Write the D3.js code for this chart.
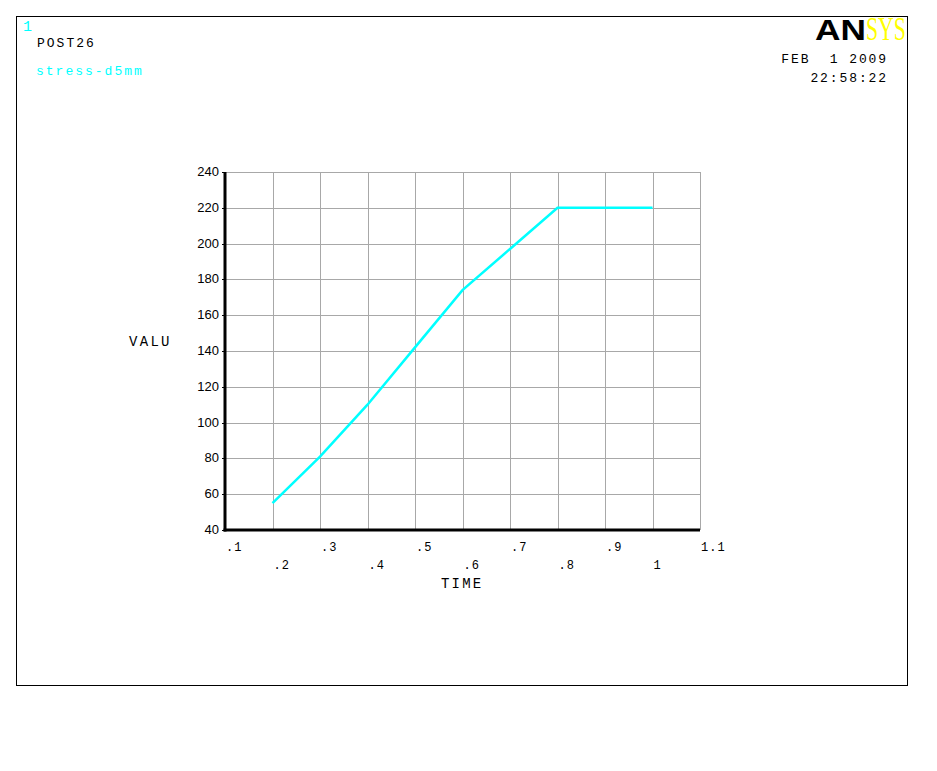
<!DOCTYPE html>
<html><head><meta charset="utf-8">
<script src="https://cdn.jsdelivr.net/npm/d3@7"></script>
<style>body{margin:0;background:#fff}svg{display:block}</style>
</head><body>
<svg id="c" width="937" height="771"></svg>
<script>
const time = [0.2, 0.3, 0.4, 0.5, 0.6, 0.7, 0.8, 0.9, 1.0];
const valu = [55, 81, 110, 142, 174, 197, 220, 220, 220];
const xTicks = [0.1,0.2,0.3,0.4,0.5,0.6,0.7,0.8,0.9,1.0,1.1];
const xTickLabels = [".1",".2",".3",".4",".5",".6",".7",".8",".9","1","1.1"];
const yTicks = [40,60,80,100,120,140,160,180,200,220,240];

const svg = d3.select("#c");
const x = d3.scaleLinear().domain([0.1,1.1]).range([225,700]);
const y = d3.scaleLinear().domain([40,240]).range([530,172]);
const mono = "'Liberation Mono','Courier New',monospace";
const sans = "'Liberation Sans',Arial,sans-serif";

svg.append("rect").attr("x",16.5).attr("y",16.5).attr("width",891).attr("height",669)
  .attr("fill","none").attr("stroke","#000").attr("stroke-width",1);

// grid
const g = svg.append("g");
g.selectAll(".vg").data(xTicks.slice(1)).join("line")
  .attr("x1",d=>Math.round(x(d))+0.5).attr("x2",d=>Math.round(x(d))+0.5)
  .attr("y1",y(240)).attr("y2",y(40)).attr("stroke","#a8a8a8").attr("stroke-width",1);
g.selectAll(".hg").data(yTicks.slice(1)).join("line")
  .attr("y1",d=>Math.round(y(d))+0.5).attr("y2",d=>Math.round(y(d))+0.5)
  .attr("x1",x(0.1)).attr("x2",x(1.1)).attr("stroke","#a8a8a8").attr("stroke-width",1);

// axes lines
svg.append("line").attr("x1",x(0.1)).attr("x2",x(0.1)).attr("y1",y(240)).attr("y2",y(40)+1.5)
  .attr("stroke","#000").attr("stroke-width",3);
svg.append("line").attr("x1",x(0.1)-1.5).attr("x2",x(1.1)).attr("y1",y(40)).attr("y2",y(40))
  .attr("stroke","#000").attr("stroke-width",3);

// y tick marks & labels
svg.selectAll(".yt").data(yTicks).join("line")
  .attr("x1",x(0.1)-3).attr("x2",x(0.1)).attr("y1",d=>Math.round(y(d))+0.5).attr("y2",d=>Math.round(y(d))+0.5)
  .attr("stroke","#000").attr("stroke-width",1);
svg.selectAll(".yl").data(yTicks).join("text")
  .attr("x",x(0.1)-6).attr("y",d=>y(d)+4).attr("text-anchor","end")
  .attr("font-family",sans).attr("font-size",13).attr("fill","#000").text(d=>d);

// x labels staggered
svg.selectAll(".xl").data(xTicks).join("text")
  .attr("x",d=>x(d)+1).attr("y",(d,i)=>i%2===0?551:569).attr("text-anchor","start")
  .attr("font-family",mono).attr("font-size",12).attr("letter-spacing",1).attr("fill","#000").text((d,i)=>xTickLabels[i]);

// axis titles
svg.append("text").attr("x",129).attr("y",346).attr("font-family",mono).attr("font-size",14).attr("letter-spacing",2.3).text("VALU");
svg.append("text").attr("x",441).attr("y",588).attr("font-family",mono).attr("font-size",14).attr("letter-spacing",2.2).text("TIME");

// data line
const line = d3.line().x((d,i)=>x(time[i])).y(d=>y(d));
svg.append("path").datum(valu).attr("d",line).attr("fill","none")
  .attr("stroke","#00ffff").attr("stroke-width",2.5);

// header texts
svg.append("text").attr("x",23).attr("y",31).attr("font-family",mono).attr("font-size",15).attr("fill","#00ffff").text("1");
svg.append("text").attr("x",37).attr("y",47).attr("font-family",mono).attr("font-size",13).attr("letter-spacing",2).attr("fill","#000").text("POST26");
svg.append("text").attr("x",36).attr("y",75).attr("font-family",mono).attr("font-size",13).attr("letter-spacing",2).attr("fill","#00ffff").text("stress-d5mm");
svg.append("text").attr("x",888).attr("y",63).attr("text-anchor","end").attr("font-family",mono).attr("font-size",13).attr("letter-spacing",1.9).style("white-space","pre").text("FEB  1 2009");
svg.append("text").attr("x",888).attr("y",82).attr("text-anchor","end").attr("font-family",mono).attr("font-size",13).attr("letter-spacing",1.9).text("22:58:22");

// logo
svg.append("text").attr("x",815).attr("y",40).attr("font-family",sans).attr("font-weight","bold")
  .attr("font-size",30).attr("fill","#000").attr("textLength",51).attr("lengthAdjust","spacingAndGlyphs").text("AN");
svg.append("text").attr("x",866).attr("y",40).attr("font-family","'Liberation Serif','Times New Roman',serif")
  .attr("font-size",33).attr("fill","#ffff00").attr("textLength",40).attr("lengthAdjust","spacingAndGlyphs").text("SYS");
</script>
</body></html>
